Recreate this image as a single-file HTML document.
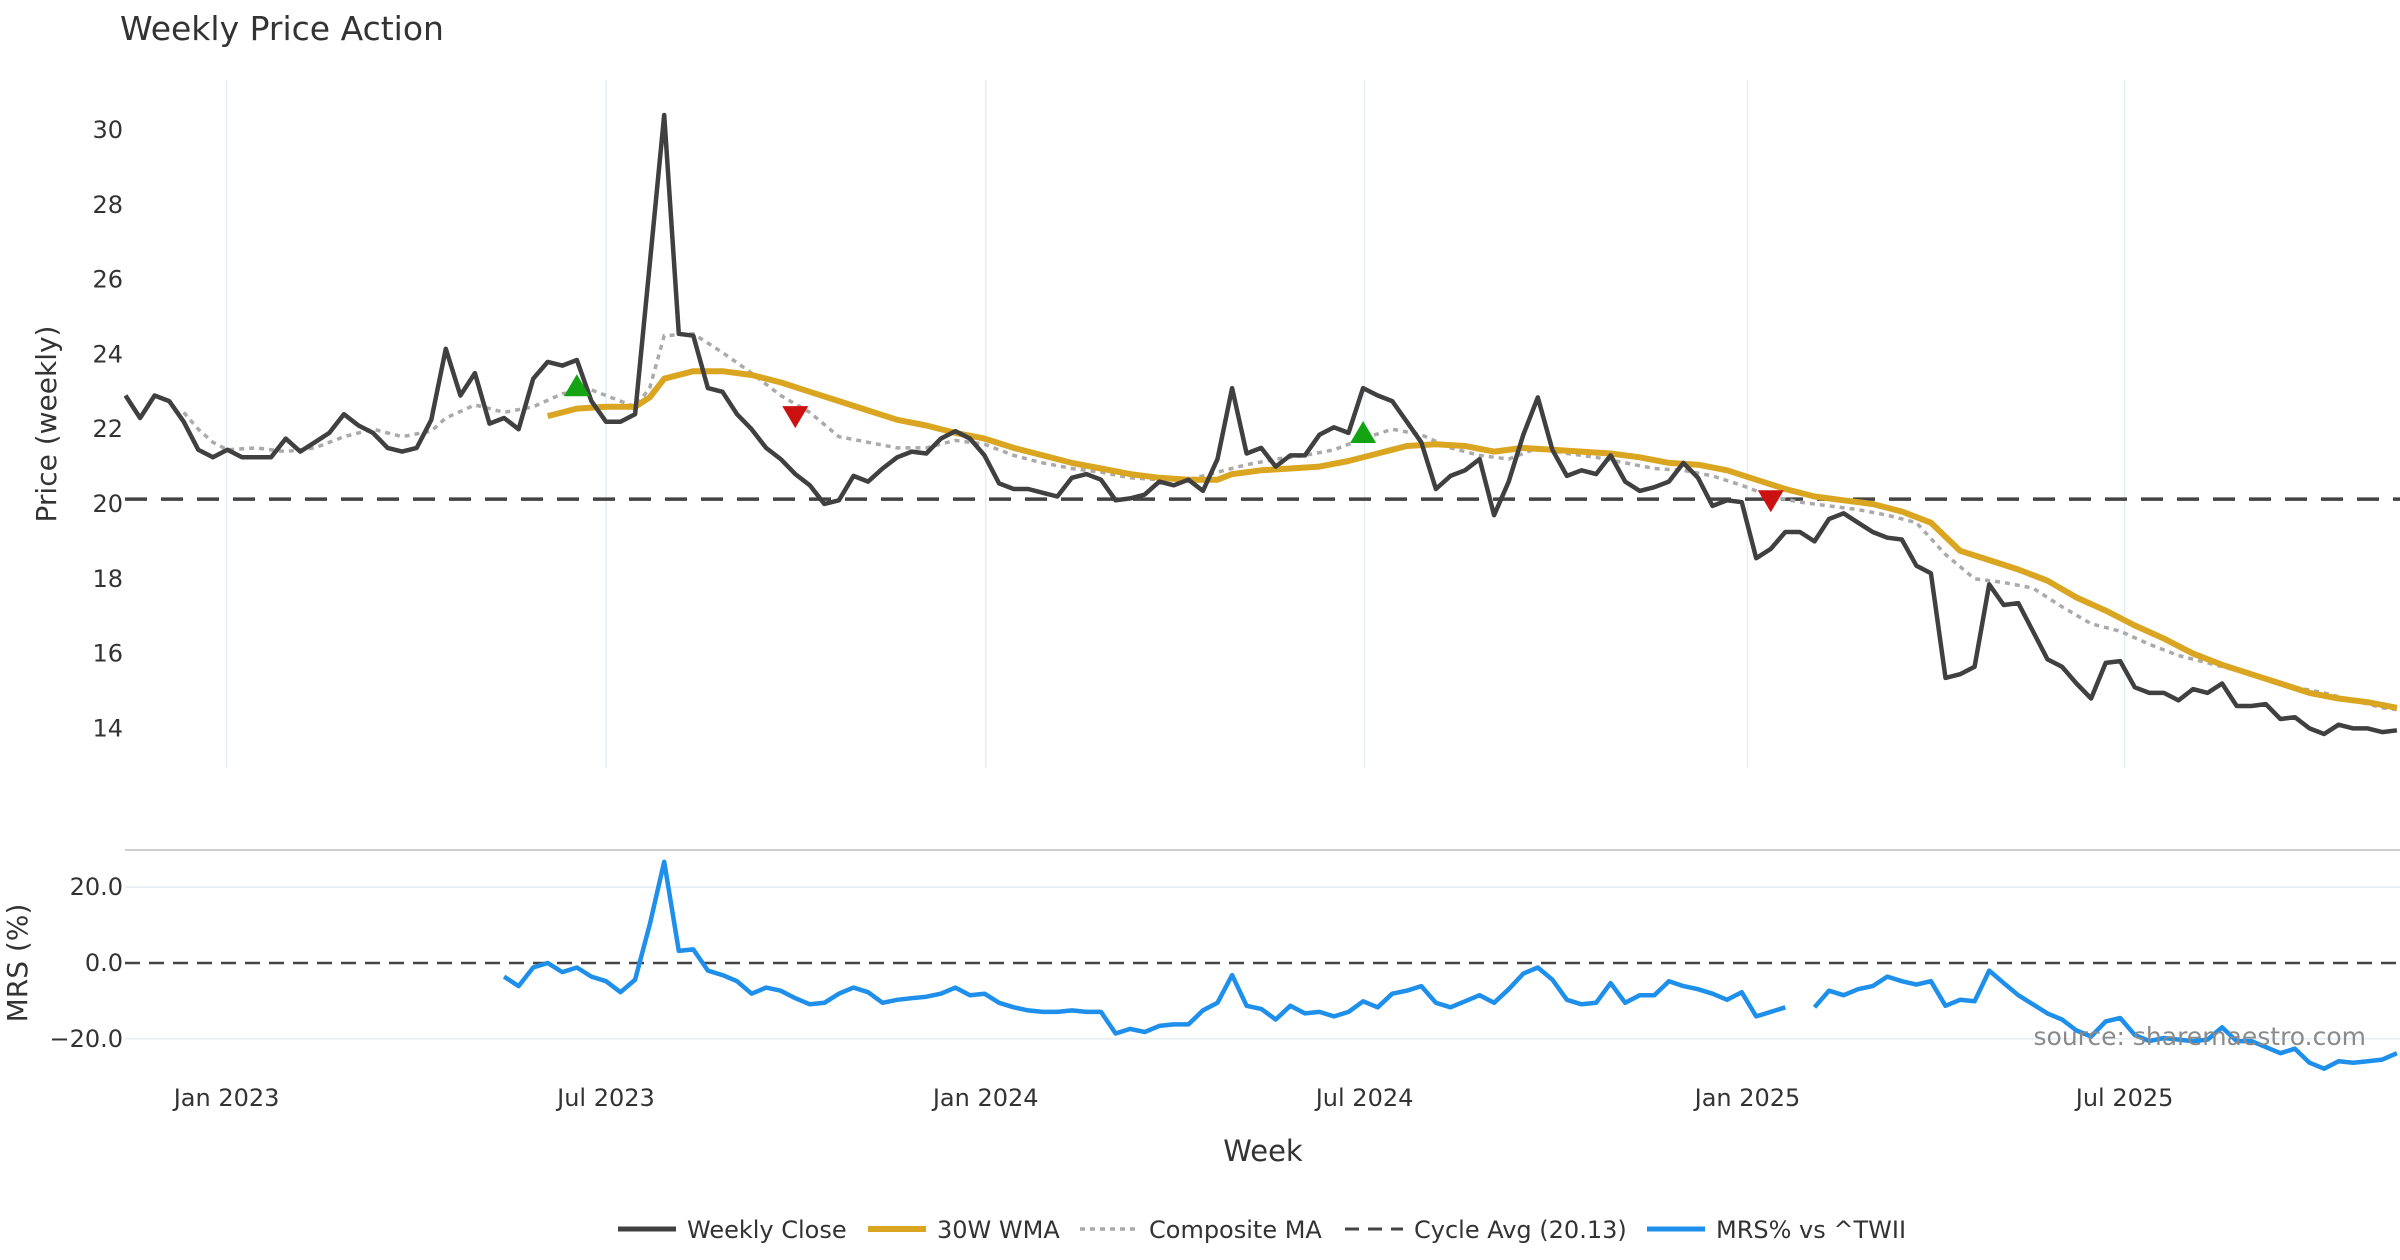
<!DOCTYPE html>
<html><head><meta charset="utf-8"><style>
html,body{margin:0;padding:0;background:#fff;}
svg{display:block;font-family:"DejaVu Sans","Liberation Sans",sans-serif;}
</style></head><body>
<svg id="chart" width="2400" height="1260" viewBox="0 0 2400 1260" xmlns="http://www.w3.org/2000/svg">
<text x="120" y="40" font-size="33" fill="#333">Weekly Price Action</text>
<g id="grid"></g>
<g id="upper"></g>
<g id="lower"></g>
<g id="axes"></g>
<text transform="translate(56,424) rotate(-90)" text-anchor="middle" font-size="28" fill="#333">Price (weekly)</text>
<text transform="translate(27,963) rotate(-90)" text-anchor="middle" font-size="28" fill="#333">MRS (%)</text>
<text x="1263" y="1161" text-anchor="middle" font-size="29" fill="#333">Week</text>
<text x="2366" y="1045" text-anchor="end" font-size="25" fill="#8a8a8a">source: sharemaestro.com</text>
<g id="legend"></g>
</svg>
<script>
const closeValues=[22.9,22.3,22.9,22.75,22.2,21.45,21.25,21.45,21.25,21.25,
21.25,21.75,21.4,21.65,21.9,22.4,22.1,21.9,21.5,21.4,
21.5,22.25,24.15,22.9,23.5,22.15,22.3,22.0,23.35,23.8,
23.7,23.85,22.75,22.2,22.2,22.4,26.4,30.4,24.55,24.5,
23.1,23.0,22.4,22.0,21.5,21.2,20.8,20.5,20.0,20.1,
20.75,20.6,20.95,21.25,21.4,21.35,21.75,21.95,21.75,21.3,
20.55,20.4,20.4,20.3,20.2,20.7,20.8,20.65,20.1,20.15,
20.25,20.6,20.5,20.65,20.35,21.2,23.1,21.35,21.5,21.0,
21.3,21.3,21.85,22.05,21.9,23.1,22.9,22.75,22.2,21.65,
20.4,20.75,20.9,21.2,19.7,20.6,21.85,22.85,21.45,20.75,
20.9,20.8,21.3,20.6,20.35,20.45,20.6,21.1,20.7,19.95,
20.1,20.05,18.55,18.8,19.25,19.25,19.0,19.6,19.75,19.5,
19.25,19.1,19.05,18.35,18.15,15.35,15.45,15.65,17.85,17.3,
17.35,16.6,15.85,15.65,15.2,14.8,15.75,15.8,15.1,14.95,
14.95,14.75,15.05,14.95,15.2,14.6,14.6,14.65,14.25,14.3,
14.0,13.85,14.1,14.0,14.0,13.9,13.95];
const wmaWeeks=[29,31,33,35,36,37,39,41,43,45,47,49,51,53,55,57,59,61,63,65,67,69,71,73,75,76,78,80,82,84,86,88,90,92,94,96,98,100,102,104,106,108,110,112,114,116,118,120,122,124,126,128,130,132,134,136,138,140,142,144,146,148,150,152,154,156];
const wmaValues=[22.35,22.55,22.6,22.6,22.85,23.35,23.55,23.55,23.45,23.25,23.0,22.75,22.5,22.25,22.1,21.9,21.75,21.5,21.3,21.1,20.95,20.8,20.7,20.65,20.65,20.8,20.9,20.95,21.0,21.15,21.35,21.55,21.6,21.55,21.4,21.5,21.45,21.4,21.35,21.25,21.1,21.05,20.9,20.65,20.4,20.2,20.1,20.0,19.8,19.5,18.75,18.5,18.25,17.95,17.5,17.15,16.75,16.4,16.0,15.7,15.45,15.2,14.95,14.8,14.7,14.55];
const compWeeks=[4,5,6,7,9,11,13,15,17,19,21,22,24,26,28,30,32,34,35,36,37,39,41,43,45,47,49,51,53,55,57,59,61,63,65,67,69,71,73,75,77,79,81,83,85,87,89,91,93,95,97,99,101,103,105,107,109,111,113,115,117,119,121,123,125,127,129,131,133,135,137,139,141,143,145,147,149,151,153,155,156];
const compValues=[22.45,22.0,21.65,21.45,21.5,21.4,21.5,21.8,22.0,21.8,21.95,22.3,22.65,22.45,22.6,22.95,23.05,22.75,22.6,23.1,24.5,24.55,24.05,23.5,22.9,22.45,21.8,21.65,21.5,21.5,21.7,21.6,21.3,21.1,20.95,20.85,20.7,20.65,20.65,20.85,21.05,21.2,21.3,21.45,21.75,22.0,21.85,21.5,21.3,21.2,21.5,21.35,21.25,21.1,20.95,20.9,20.75,20.5,20.2,20.05,19.95,19.85,19.7,19.5,18.65,18.0,17.9,17.75,17.25,16.8,16.6,16.25,15.95,15.75,15.55,15.35,15.1,14.95,14.75,14.55,14.5];
const cycleAvg=20.13;
const buyWeeks=[31,85];
const buyValues=[23.15,21.9];
const sellWeeks=[46,113];
const sellValues=[22.35,20.1];
const mrsStart=26;
const mrsValues=[-3.6,-6.1,-1.2,0,-2.4,-1.2,-3.6,-4.8,-7.7,-4.4,10.1,26.7,3.2,3.6,-2.0,-3.2,-4.8,-8.1,-6.5,-7.3,
-9.3,-10.9,-10.5,-8.1,-6.5,-7.7,-10.5,-9.7,-9.3,-8.9,-8.1,-6.5,-8.5,-8.1,-10.5,-11.7,-12.5,-12.9,-12.9,-12.5,
-12.9,-12.9,-18.6,-17.4,-18.2,-16.6,-16.2,-16.2,-12.5,-10.5,-3.2,-11.3,-12.1,-14.9,-11.3,-13.3,-12.9,-14.1,-12.9,-10.1,
-11.7,-8.1,-7.3,-6.1,-10.5,-11.7,-10.1,-8.5,-10.5,-6.9,-2.8,-1.2,-4.4,-9.7,-10.9,-10.5,-5.3,-10.5,-8.5,-8.5,
-4.8,-6.1,-6.9,-8.1,-9.7,-7.7,-14.1,-12.9,-11.7,null,-11.7,-7.3,-8.5,-6.9,-6.1,-3.6,-4.8,-5.7,-4.8,-11.3,
-9.7,-10.1,-2.0,-5.3,-8.5,-10.9,-13.3,-14.9,-17.8,-19.4,-15.4,-14.5,-19.0,-20.6,-19.8,-20.2,-20.6,-20.2,-17.0,-20.6,
-20.6,-22.2,-23.8,-22.6,-26.3,-27.9,-25.9,-26.3,-25.9,-25.5,-23.8];
const priceTicks=[14,16,18,20,22,24,26,28,30];
const mrsTicks=[20,0,-20];
const mrsTickLabels=["20.0","0.0","\u221220.0"];
const dateTickWeeks=[7,33,59,85,111,137];
const dateTickLabels=["Jan 2023","Jul 2023","Jan 2024","Jul 2024","Jan 2025","Jul 2025"];
const dateTickOffsets=[-0.06,0.0,0.08,0.1,0.4,0.3];

const NS="http://www.w3.org/2000/svg";
const X0=125.5, DX=14.56;
function xw(i){return X0+i*DX;}
function yP(v){return 130+(30-v)*37.4;}
function yM(v){return 963-v*3.79;}
function mk(tag,attrs,parent){const e=document.createElementNS(NS,tag);for(const k in attrs)e.setAttribute(k,attrs[k]);parent.appendChild(e);return e;}
const grid=document.getElementById('grid'),upper=document.getElementById('upper'),lower=document.getElementById('lower'),axes=document.getElementById('axes'),legend=document.getElementById('legend');

dateTickWeeks.forEach((w,k)=>{
  const x=xw(w+dateTickOffsets[k]);
  const g=mk('line',{x1:x,x2:x,y1:80,y2:768,stroke:'#e6eef4','stroke-width':1.5},grid);
  
  
  const t=mk('text',{x:x,y:1106,'text-anchor':'middle','font-size':24,fill:'#333'},axes);
  t.textContent=dateTickLabels[k];
  
  
});
priceTicks.forEach(v=>{
  const t=mk('text',{x:123,y:yP(v)+8,'text-anchor':'end','font-size':24,fill:'#333'},axes);
  t.textContent=String(v);
  
  
});
const sep=mk('line',{x1:125,x2:2400,y1:850,y2:850,stroke:'#cfcfcf','stroke-width':2},grid);


mrsTicks.forEach((v,k)=>{
  if(v!==0){const l=mk('line',{x1:125,x2:2400,y1:yM(v),y2:yM(v),stroke:'#e6eef4','stroke-width':1.5},grid);
  
  }
  const t=mk('text',{x:123,y:yM(v)+8,'text-anchor':'end','font-size':24,fill:'#333'},axes);
  t.textContent=mrsTickLabels[k];
  
  
});
const zl=mk('line',{x1:125,x2:2400,y1:yM(0),y2:yM(0),stroke:'#444','stroke-width':2.5,'stroke-dasharray':'15 9'},lower);



const cy=mk('line',{x1:125,x2:2400,y1:yP(cycleAvg),y2:yP(cycleAvg),stroke:'#444','stroke-width':3.5,'stroke-dasharray':'22 14'},upper);



function pathFrom(ws,vs,yf){let d='';let pen=false;vs.forEach((v,k)=>{if(v===null){pen=false;return;}d+=(pen?'L':'M')+xw(ws[k]).toFixed(1)+' '+yf(v).toFixed(1)+' ';pen=true;});return d;}
const comp=mk('path',{d:pathFrom(compWeeks,compValues,yP),fill:'none',stroke:'#aaaaaa','stroke-width':3.5,'stroke-dasharray':'5 5'},upper);


const wma=mk('path',{d:pathFrom(wmaWeeks,wmaValues,yP),fill:'none',stroke:'#DAA520','stroke-width':6,'stroke-linejoin':'round'},upper);


const cw=closeValues.map((v,i)=>i);
const cl=mk('path',{d:pathFrom(cw,closeValues,yP),fill:'none',stroke:'#404040','stroke-width':4.5,'stroke-linejoin':'round'},upper);


buyWeeks.forEach((w,k)=>{const x=xw(w),y=yP(buyValues[k]);
  const m=mk('polygon',{points:`${x-13},${y+10} ${x+13},${y+10} ${x},${y-12}`,fill:'#13a313'},upper);
  
  });
sellWeeks.forEach((w,k)=>{const x=xw(w),y=yP(sellValues[k]);
  const m=mk('polygon',{points:`${x-13},${y-10} ${x+13},${y-10} ${x},${y+12}`,fill:'#cc1111'},upper);
  
  });
const mw=mrsValues.map((v,k)=>mrsStart+k);
const mr=mk('path',{d:pathFrom(mw,mrsValues,yM),fill:'none',stroke:'#1E8FEA','stroke-width':4.5,'stroke-linejoin':'round'},lower);



const legItems=[["Weekly Close",618,'#404040',null,5],["30W WMA",868,'#DAA520',null,6],["Composite MA",1080,'#aaaaaa','5 5',3.5],["Cycle Avg (20.13)",1345,'#444','14 9',3],["MRS% vs ^TWII",1647,'#1E8FEA',null,5]];
legItems.forEach(it=>{
  const g=mk('g',{},legend);
  
  
  const a={x1:it[1],x2:it[1]+58,y1:1229,y2:1229,stroke:it[2],'stroke-width':it[4]};
  if(it[3])a['stroke-dasharray']=it[3];
  mk('line',a,g);
  const t=mk('text',{x:it[1]+69,y:1238,'font-size':24,fill:'#333'},g);
  t.textContent=it[0];
});
</script>
</body></html>
